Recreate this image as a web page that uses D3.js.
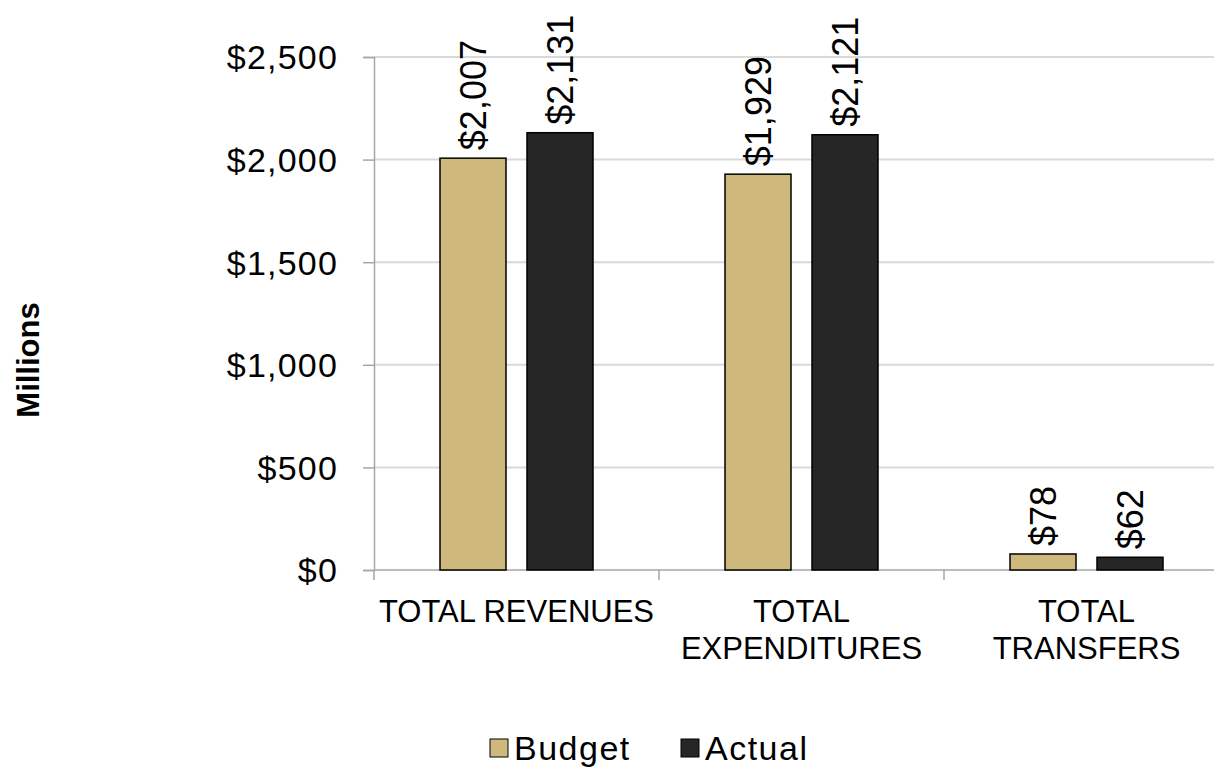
<!DOCTYPE html>
<html>
<head>
<meta charset="utf-8">
<script src="https://cdnjs.cloudflare.com/ajax/libs/d3/7.8.5/d3.min.js"></script>
<style>
  body { margin: 0; background: #fff; }
  svg { display: block; font-family: "Liberation Sans", Arial, Helvetica, sans-serif; }
</style>
</head>
<body>
<svg id="chart" width="1214" height="767"></svg>
<script>
// chart data
var categories = [["TOTAL REVENUES"], ["TOTAL", "EXPENDITURES"], ["TOTAL", "TRANSFERS"]];
var seriesNames = ["Budget", "Actual"];
var budget = [2007, 1929, 78];
var actual = [2131, 2121, 62];
var yTicks = [0, 500, 1000, 1500, 2000, 2500];
var colors = {"Budget": "#cfb87c", "Actual": "#262626"};

function drawChart(){
  var svg = d3.select("#chart");

  var left = 374, right = 1229, top = 57, bottom = 570;

  var x0 = d3.scaleBand()
      .domain(d3.range(categories.length))
      .range([left, right])
      .padding(0);

  // bars sit in the middle of each category
  var x1 = d3.scaleBand()
      .domain(seriesNames)
      .range([66, 219])
      .paddingInner(0.2414);

  var y = d3.scaleLinear()
      .domain([0, 2500])
      .range([bottom, top]);

  //gridlines
  svg.append("g")
    .selectAll("line")
    .data(yTicks.slice(1))
    .enter().append("line")
    .attr("x1", left).attr("x2", 1214)
    .attr("y1", function(d){ return y(d); })
    .attr("y2", function(d){ return y(d); })
    .style("stroke", "#d9d9d9")
    .style("stroke-width", 2);

  // y axis
  var yAxis = svg.append("g")
    .attr("transform", "translate(" + left + ",0)")
    .call(d3.axisLeft(y).tickValues(yTicks).tickSize(11).tickPadding(25)
      .tickFormat(function(d){ return "$" + d3.format(",")(d); }));
  yAxis.select(".domain").style("stroke", "#a6a6a6").style("stroke-width", 1.5);
  yAxis.selectAll(".tick line").style("stroke", "#a6a6a6").style("stroke-width", 1.5);
  yAxis.selectAll(".tick text")
    .style("font-size", "34px")
    .style("letter-spacing", "1.2px")
    .style("fill", "#000")
    .attr("dy", "0.35em");

  // x axis line + ticks at category boundaries
  var xg = svg.append("g");
  xg.append("line")
    .attr("x1", left).attr("x2", 1214)
    .attr("y1", y(0)).attr("y2", y(0))
    .style("stroke", "#a6a6a6").style("stroke-width", 1.5);
  xg.selectAll(".xtick")
    .data(d3.range(categories.length))
    .enter().append("line")
    .attr("class", "xtick")
    .attr("x1", function(d){ return x0(d); })
    .attr("x2", function(d){ return x0(d); })
    .attr("y1", y(0)).attr("y2", y(0) + 10)
    .style("stroke", "#a6a6a6").style("stroke-width", 1.5);

  // category labels
  var labels = xg.selectAll(".xlabel")
    .data(categories)
    .enter().append("text")
    .attr("class", "xlabel")
    .attr("text-anchor", "middle")
    .style("font-size", "31px")
    .style("fill", "#000");
  labels.each(function(lines, i){
    var t = d3.select(this);
    lines.forEach(function(line, j){
      t.append("tspan")
        .attr("x", x0(i) + x0.bandwidth() / 2)
        .attr("y", 622 + j * 37)
        .text(line);
    });
  });

  // bars
  var rows = categories.map(function(c, i){
    return [{s: "Budget", v: budget[i], i: i}, {s: "Actual", v: actual[i], i: i}];
  });

  var groups = svg.append("g").selectAll("g")
    .data(rows)
    .enter().append("g")
    .attr("transform", function(d, i){ return "translate(" + x0(i) + ",0)"; });

  groups.selectAll("rect")
    .data(function(d){ return d; })
    .enter().append("rect")
    .attr("x", function(d){ return x1(d.s); })
    .attr("width", x1.bandwidth())
    .attr("y", function(d){ return y(d.v); })
    .attr("height", function(d){ return y(0) - y(d.v); })
    .style("fill", function(d){ return colors[d.s]; })
    .style("stroke", "#000")
    .style("stroke-width", 1.5);

  // value labels, rotated
  groups.selectAll(".vlabel")
    .data(function(d){ return d; })
    .enter().append("text")
    .attr("class", "vlabel")
    .attr("transform", function(d){
      return "translate(" + (x1(d.s) + x1.bandwidth() / 2) + "," + (y(d.v) - 8) + ") rotate(-90)";
    })
    .attr("dy", "0.36em")
    .style("font-size", "36px")
    .style("fill", "#000")
    .text(function(d){ return "$" + d3.format(",")(d.v); });

  // y axis title
  svg.append("text")
    .attr("transform", "translate(28,360) rotate(-90)")
    .attr("text-anchor", "middle")
    .attr("dy", "0.36em")
    .style("font-size", "31px")
    .style("font-weight", "bold")
    .text("Millions");

  // legend
  var legendX = [490, 681];
  var leg = svg.append("g").selectAll("g")
    .data(seriesNames)
    .enter().append("g")
    .attr("transform", function(d, i){ return "translate(" + legendX[i] + ",739)"; });
  leg.append("rect")
    .attr("width", 18).attr("height", 18)
    .style("fill", function(d){ return colors[d]; })
    .style("stroke", "#000").style("stroke-width", 1);
  leg.append("text")
    .attr("x", 24).attr("y", 9).attr("dy", "0.36em")
    .style("font-size", "34px")
    .style("letter-spacing", "1.5px")
    .text(function(d){ return d; });
}

drawChart();
</script>
</body>
</html>
